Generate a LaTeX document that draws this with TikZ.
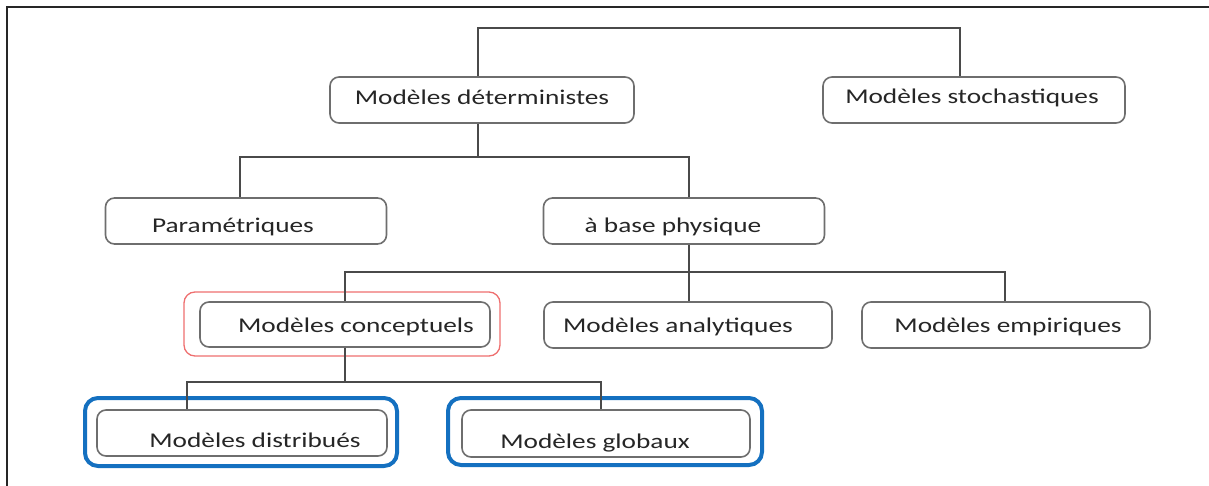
\documentclass[tikz,border=0pt]{standalone}
\usepackage{fontspec}
\setmainfont{Carlito}[FakeStretch=1.3]
\definecolor{boxgray}{HTML}{6E6E6E}
\definecolor{linegray}{HTML}{4A4A4A}
\definecolor{txt}{HTML}{262626}
\definecolor{hlred}{HTML}{EE6F6F}
\definecolor{hlblue}{HTML}{1470C0}
\newcommand{\lowerby}[2]{\raisebox{-#1}{#2}}
\tikzset{
  box/.style={draw=boxgray, line width=1.6pt, rounded corners=9pt, fill=white,
    minimum height=46pt, inner sep=0pt, text=txt, text height=0pt, text depth=0pt,
    font=\fontsize{21pt}{24pt}\selectfont},
  conn/.style={draw=linegray, line width=1.5pt},
  redframe/.style={draw=hlred, line width=1.3pt, rounded corners=11pt},
  blueframe/.style={draw=hlblue, line width=4pt, rounded corners=13pt}
}
\begin{document}
\begin{tikzpicture}[x=1pt,y=-1pt]
\useasboundingbox (0,0) rectangle (1209,486);
% page frame
\draw[line width=1.3pt, black!85] (7,486) -- (7,7) -- (1209,7);
% highlight frames
\node[redframe, minimum width=316pt, minimum height=64pt] (conframe) at (342,324) {};
\node[blueframe, minimum width=312pt, minimum height=68pt] (disframe) at (241,432) {};
\node[blueframe, minimum width=314pt, minimum height=67pt] (gloframe) at (605,431.5) {};
% bus coordinates
\coordinate (t1) at (478,28);
\coordinate (t2) at (960,28);
\coordinate (b1) at (240,157);
\coordinate (b2) at (689,157);
\coordinate (c1) at (345,272);
\coordinate (c3) at (1005,272);
\coordinate (d1) at (187,382);
\coordinate (d2) at (601,382);
% boxes
\node[box, minimum width=304pt] (det) at (482,100) {\lowerby{4.5pt}{Modèles déterministes}};
\node[box, minimum width=302pt] (sto) at (974,100) {\hspace*{-4pt}\lowerby{4pt}{Modèles stochastiques}};
\node[box, minimum width=281pt] (par) at (246,221) {\hspace*{-26pt}\lowerby{12pt}{Paramétriques}};
\node[box, minimum width=281pt] (phy) at (684,221) {\hspace*{-22pt}\lowerby{12pt}{à base physique}};
\node[box, minimum width=290pt, minimum height=45pt] (con) at (345,324.5) {\hspace*{22pt}\lowerby{7.5pt}{Modèles conceptuels}};
\node[box, minimum width=288pt] (ana) at (688,325) {\hspace*{-20pt}\lowerby{7.5pt}{Modèles analytiques}};
\node[box, minimum width=288pt] (emp) at (1006,325) {\hspace*{4pt}\lowerby{7.5pt}{Modèles empiriques}};
\node[box, minimum width=290pt] (dis) at (242,433) {\hspace*{26pt}\lowerby{14.5pt}{Modèles distribués}};
\node[box, minimum width=288pt, minimum height=47pt] (glo) at (606,433.5) {\hspace*{-22pt}\lowerby{14.5pt}{Modèles globaux}};
% connectors
\draw[conn] (det.north -| t1) -- (t1) -- (t2) -- (sto.north -| t2);
\draw[conn] (det.south -| t1) -- (t1 |- b1);
\draw[conn] (par.north -| b1) -- (b1) -- (b2) -- (phy.north -| b2);
\draw[conn] (phy.south -| b2) -- (b2 |- c1);
\draw[conn] (con.north -| c1) -- (c1) -- (c3) -- (emp.north -| c3);
\draw[conn] (b2 |- c1) -- (ana.north -| b2);
\draw[conn] (con.south -| c1) -- (c1 |- d1);
\draw[conn] (dis.north -| d1) -- (d1) -- (d2) -- (glo.north -| d2);
\end{tikzpicture}
\end{document}
